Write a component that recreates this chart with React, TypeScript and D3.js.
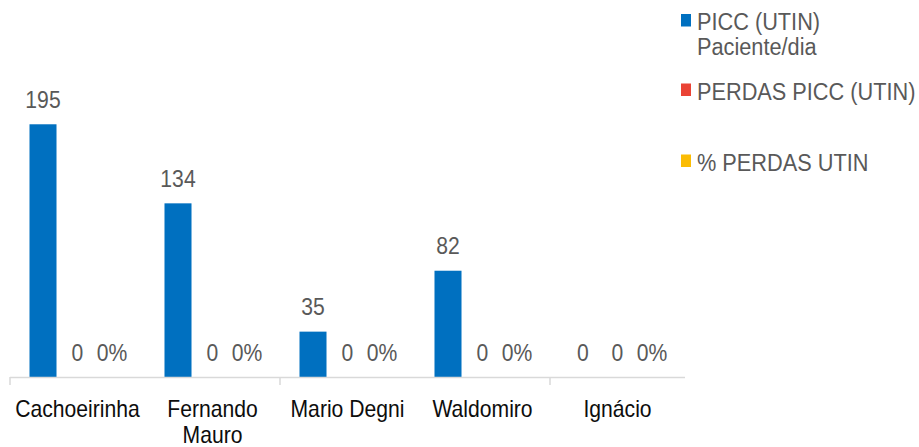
import React, { useEffect, useRef } from 'react';
import * as d3 from 'd3';

const categories = ['Cachoeirinha', 'Fernando Mauro', 'Mario Degni', 'Waldomiro', 'Ignácio'];
const seriesNames = ['PICC (UTIN) Paciente/dia', 'PERDAS PICC (UTIN)', '% PERDAS UTIN'];
const piccPacienteDia = [195, 134, 35, 82, 0];
const perdasPicc = [0, 0, 0, 0, 0];
const percPerdas = [0, 0, 0, 0, 0];
const seriesColors = ['#0070C0', '#EA4335', '#FBBC04'];

const width = 919;
const height = 447;
const FONT = '"Liberation Sans", Arial, sans-serif';

const App = () => {
  const svgRef = useRef<SVGSVGElement | null>(null);

  useEffect(() => {
    const svg = d3.select(svgRef.current);
    svg.selectAll('*').remove();

    const series = [piccPacienteDia, perdasPicc, percPerdas];
    const baseY = 377;

    const x = d3.scaleBand<string>().domain(categories).range([10, 685]);
    const cw = x.bandwidth();
    const xs = d3
      .scaleBand<number>()
      .domain([0, 1, 2])
      .range([cw * 0.1444, cw * 0.8556])
      .paddingInner(0.217);

    const y = d3.scaleLinear().domain([0, 250]).range([baseY, baseY - 250 * 1.296]);

    // bars
    series.forEach((vals, si) => {
      svg
        .append('g')
        .selectAll('rect')
        .data(vals)
        .join('rect')
        .attr('x', (d, i) => x(categories[i])! + xs(si)!)
        .attr('y', d => y(d))
        .attr('width', xs.bandwidth())
        .attr('height', d => baseY - y(d))
        .attr('fill', seriesColors[si]);
    });

    // axis line + ticks (every other category)
    const axis = svg.append('g');
    axis
      .append('line')
      .attr('x1', 10)
      .attr('x2', 685)
      .attr('y1', baseY + 0.5)
      .attr('y2', baseY + 0.5)
      .attr('stroke', '#D9D9D9')
      .attr('stroke-width', 1.5);
    [0, 2, 4].forEach(i => {
      const tx = x(categories[i])!;
      axis
        .append('line')
        .attr('x1', tx)
        .attr('x2', tx)
        .attr('y1', baseY)
        .attr('y2', baseY + 8)
        .attr('stroke', '#D9D9D9')
        .attr('stroke-width', 1.5);
    });

    const addText = (g: any, tx: number, ty: number, str: string, anchor: string, color: string, sx = 0.92) =>
      g
        .append('text')
        .attr('transform', `translate(${tx},${ty}) scale(${sx},1)`)
        .attr('text-anchor', anchor)
        .attr('font-family', FONT)
        .attr('font-size', 23)
        .attr('fill', color)
        .text(str);

    // data labels
    const labels = svg.append('g');
    series.forEach((vals, si) => {
      vals.forEach((v, i) => {
        const cx = x(categories[i])! + xs(si)! + xs.bandwidth() / 2;
        const txt = si === 2 ? d3.format('.0%')(v) : String(v);
        addText(labels, cx, y(v) - 16.5, txt, 'middle', '#595959');
      });
    });

    // category labels with wrapping
    const cats = svg.append('g');
    categories.forEach(c => {
      const cx = x(c)! + cw / 2;
      const words = c.split(' ');
      const lines: string[] = [];
      let cur = '';
      words.forEach(w => {
        const test = cur ? cur + ' ' + w : w;
        const t = addText(cats, 0, -100, test, 'middle', '#000');
        const len = (t.node() as SVGTextElement).getComputedTextLength() * 0.92;
        t.remove();
        if (len > 130 && cur) {
          lines.push(cur);
          cur = w;
        } else {
          cur = test;
        }
      });
      lines.push(cur);
      lines.forEach((l, li) => addText(cats, cx, 416.5 + li * 26, l, 'middle', '#0D0D0D'));
    });

    // legend
    const legend = svg.append('g');
    const legendRows = [
      { lines: ['PICC (UTIN)', 'Paciente/dia'], top: 14 },
      { lines: [seriesNames[1]], top: 83.5 },
      { lines: [seriesNames[2]], top: 154.5 },
    ];
    legendRows.forEach((r, i) => {
      legend
        .append('rect')
        .attr('x', 681)
        .attr('y', r.top)
        .attr('width', 10)
        .attr('height', 12.5)
        .attr('fill', seriesColors[i]);
      r.lines.forEach((l, li) => addText(legend, 697, r.top + 16 + li * 25, l, 'start', '#595959', 0.945));
    });
  }, []);

  return (
    <svg
      ref={svgRef}
      width={width}
      height={height}
      style={{ position: 'absolute', left: 0, top: 0, background: '#fff' }}
    />
  );
};

export default App;
